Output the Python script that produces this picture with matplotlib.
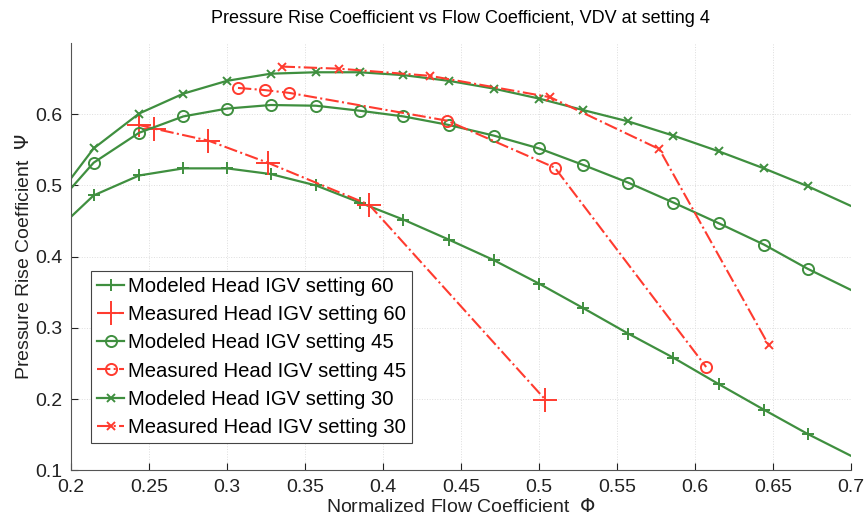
import numpy as np
import matplotlib.pyplot as plt

plt.rcParams['font.family'] = ['Liberation Sans', 'DejaVu Sans']

# modeled head curves (first and last points carry no marker)
phi_model = [0.200, 0.2145, 0.2436, 0.272, 0.300, 0.328, 0.357, 0.385, 0.413,
             0.442, 0.471, 0.500, 0.528, 0.557, 0.586, 0.615, 0.644, 0.672, 0.700]
psi_model_60 = [0.456, 0.486, 0.514, 0.524, 0.524, 0.516, 0.500, 0.476, 0.452,
                0.424, 0.395, 0.362, 0.328, 0.292, 0.258, 0.221, 0.185, 0.151, 0.120]
psi_model_45 = [0.496, 0.532, 0.574, 0.597, 0.608, 0.613, 0.612, 0.605, 0.597,
                0.585, 0.570, 0.552, 0.529, 0.504, 0.476, 0.447, 0.417, 0.383, 0.353]
psi_model_30 = [0.510, 0.552, 0.601, 0.629, 0.647, 0.657, 0.659, 0.659, 0.655,
                0.647, 0.636, 0.622, 0.606, 0.590, 0.570, 0.548, 0.524, 0.499, 0.471]

# measured head
phi_meas_60 = [0.2436, 0.253, 0.288, 0.326, 0.391, 0.504]
psi_meas_60 = [0.585, 0.580, 0.563, 0.532, 0.473, 0.199]
phi_meas_45 = [0.307, 0.324, 0.340, 0.441, 0.510, 0.607]
psi_meas_45 = [0.637, 0.634, 0.630, 0.591, 0.525, 0.245]
phi_meas_30 = [0.335, 0.372, 0.430, 0.507, 0.577, 0.647]
psi_meas_30 = [0.667, 0.664, 0.654, 0.624, 0.551, 0.276]

green = '#3f8f3f'
red = '#ff3b2f'

fig = plt.figure(figsize=(8.66, 5.19), dpi=100)
ax = fig.add_axes([0.082, 0.094, 0.901, 0.823])

mk = range(1, len(phi_model) - 1)
ax.plot(phi_model, psi_model_60, '-', color=green, lw=1.6, marker='+', ms=8, mew=1.4,
        markevery=mk, label='Modeled Head IGV setting 60')
ax.plot(phi_meas_60, psi_meas_60, '-.', color=red, lw=1.5, marker='+', ms=17, mew=1.4,
        label='Measured Head IGV setting 60')
ax.plot(phi_model, psi_model_45, '-', color=green, lw=1.6, marker='o', ms=8, mew=1.4,
        mfc='none', markevery=mk, label='Modeled Head IGV setting 45')
ax.plot(phi_meas_45, psi_meas_45, '-.', color=red, lw=1.5, marker='o', ms=8, mew=1.4,
        mfc='none', label='Measured Head IGV setting 45')
ax.plot(phi_model, psi_model_30, '-', color=green, lw=1.6, marker='x', ms=6, mew=1.4,
        markevery=mk, label='Modeled Head IGV setting 30')
ax.plot(phi_meas_30, psi_meas_30, '-.', color=red, lw=1.5, marker='x', ms=6, mew=1.4,
        label='Measured Head IGV setting 30')

ax.set_xlim(0.2, 0.7)
ax.set_ylim(0.1, 0.7)
ax.set_xticks(np.arange(0.2, 0.701, 0.05))
ax.set_xticklabels(['0.2', '0.25', '0.3', '0.35', '0.4', '0.45', '0.5', '0.55', '0.6', '0.65', '0.7'])
ax.set_yticks(np.arange(0.1, 0.601, 0.1))
ax.set_yticklabels(['0.1', '0.2', '0.3', '0.4', '0.5', '0.6'])
ax.tick_params(direction='in', length=5, labelsize=14, colors='#222222', pad=6)
ax.grid(True, color='#dddddd', ls=':', lw=0.7)
for s in ['top', 'right']:
    ax.spines[s].set_visible(False)
for s in ['left', 'bottom']:
    ax.spines[s].set_color('#555555')

ax.set_xlabel('Normalized Flow Coefficient  $\\Phi$', fontsize=14, labelpad=2, color='#222222')
ax.set_ylabel('Pressure Rise Coefficient  $\\Psi$', fontsize=14, labelpad=2, color='#222222')
fig.text(0.532, 0.965, 'Pressure Rise Coefficient vs Flow Coefficient, VDV at setting 4',
         ha='center', va='center', fontsize=13, family=['Liberation Sans Narrow', 'Liberation Sans'])

leg = ax.legend(loc='lower left', bbox_to_anchor=(0.026, 0.064), fontsize=14.6,
                handlelength=1.3, handletextpad=0.2, borderpad=0.3, labelspacing=0.45,
                fancybox=False, framealpha=1, edgecolor='#444444', borderaxespad=0)
leg.get_frame().set_linewidth(0.8)

fig.savefig('out.png', dpi=100)
